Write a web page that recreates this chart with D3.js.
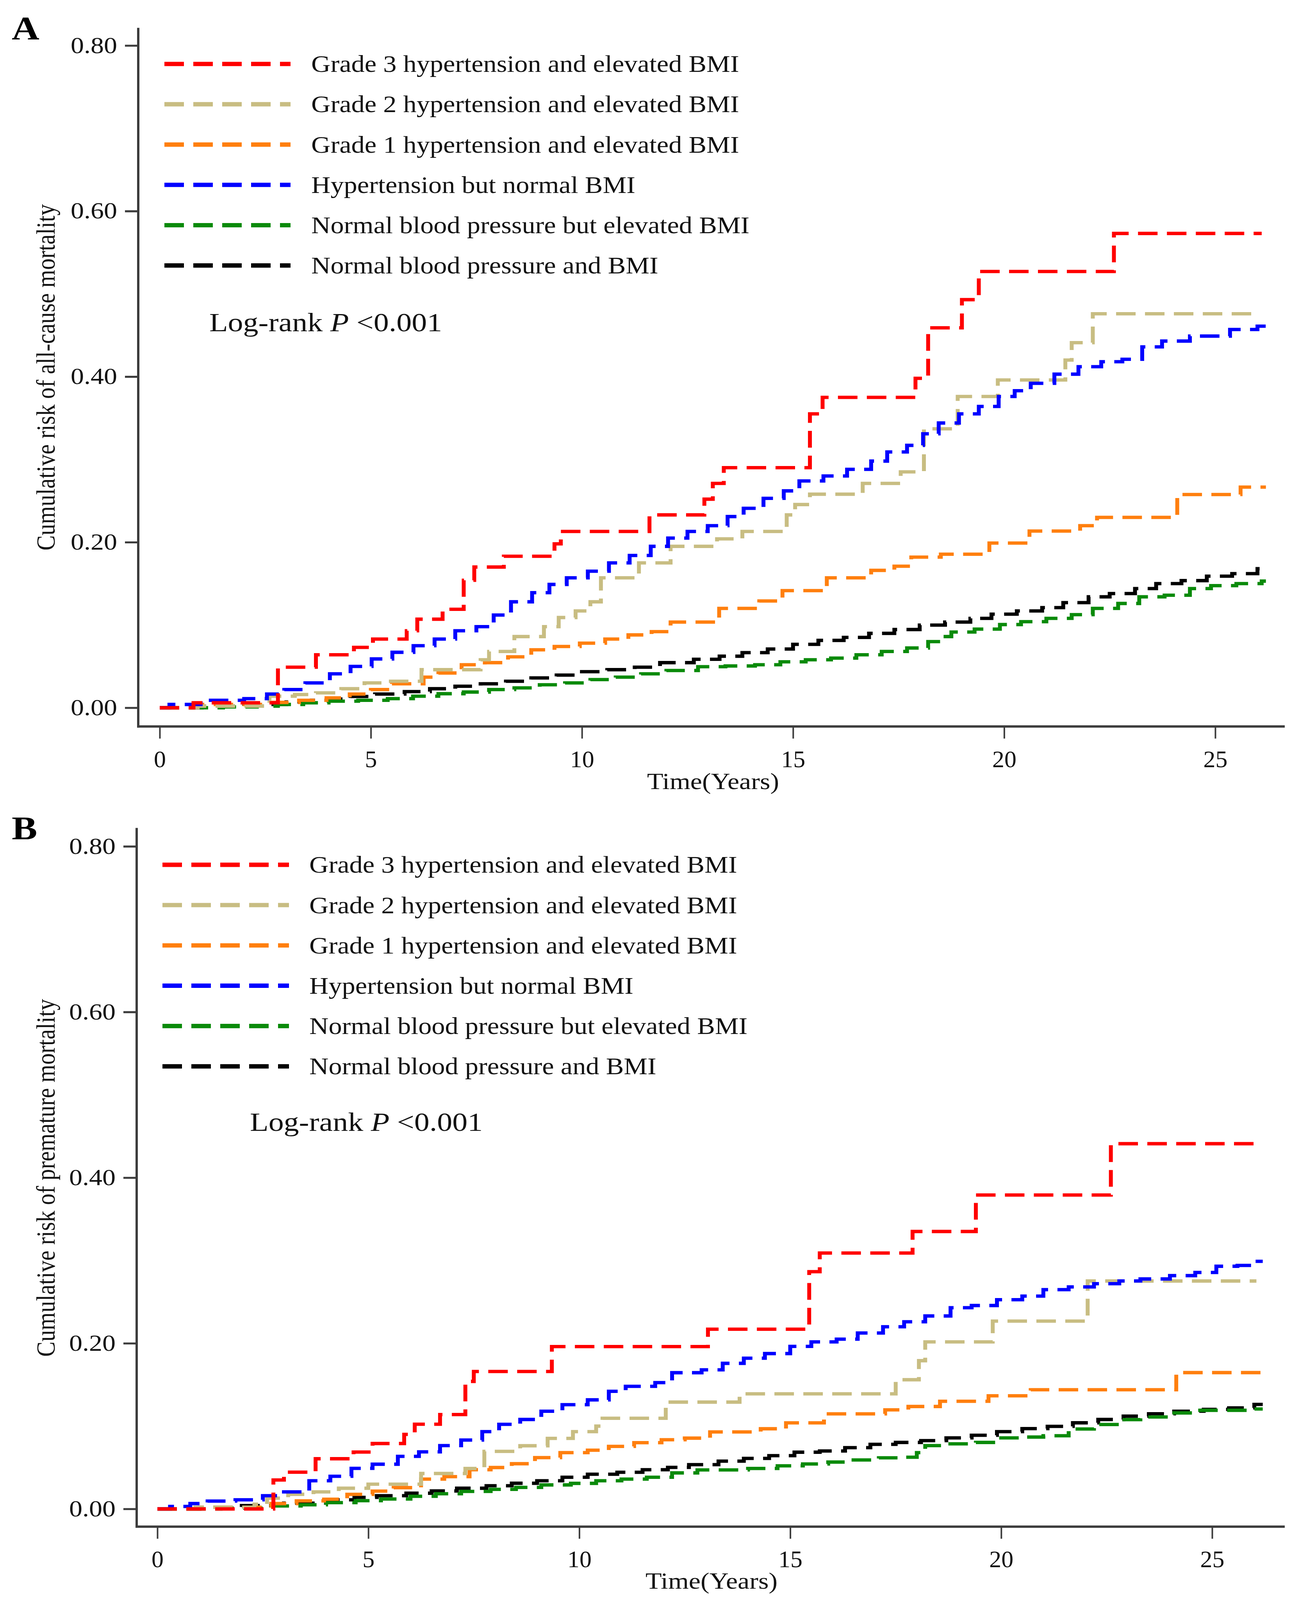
<!DOCTYPE html>
<html><head><meta charset="utf-8">
<script src="https://cdn.jsdelivr.net/npm/d3@7/dist/d3.min.js"></script>
<style>
html,body{margin:0;padding:0;background:#fff;overflow:hidden;width:100%;height:100%;}
svg{display:block;width:100vw;height:100vh;}
text{font-family:"Liberation Serif","Times New Roman",serif;}
</style></head>
<body>
<svg id="chart" viewBox="0 0 3306 4779" preserveAspectRatio="none"></svg>
<script>
// ---------- DATA ----------
const seriesNames = [
  "Grade 3 hypertension and elevated BMI",
  "Grade 2 hypertension and elevated BMI",
  "Grade 1 hypertension and elevated BMI",
  "Hypertension but normal BMI",
  "Normal blood pressure but elevated BMI",
  "Normal blood pressure and BMI"
];
const seriesColors = ["#ff0000","#c8bd82","#ff7f0e","#0000ff","#0a8a0a","#000000"];
const xTicks = [0,5,10,15,20,25];
const yTicks = [0,0.2,0.4,0.6,0.8];
const panelLetters = ["A","B"];
const yTitles = ["Cumulative risk of all-cause mortality","Cumulative risk of premature mortality"];
const xTitle = "Time(Years)";

// Panel A: [time, cumulative risk]
const g3A = [[0,0],[0.8,0.006],[2.8,0.049],[3.7,0.064],[4.6,0.073],[5.05,0.083],[5.85,0.093],[6.1,0.107],[6.7,0.119],[7.2,0.154],[7.45,0.170],[8.15,0.183],[9.35,0.198],[9.5,0.213],[11.6,0.233],[12.9,0.252],[13.1,0.271],[13.36,0.290],[15.4,0.355],[15.7,0.375],[17.9,0.398],[18.2,0.459],[19.0,0.493],[19.4,0.527],[22.6,0.573],[26.1,0.573]];
const g2A = [[0,0],[0.9,0.002],[2.6,0.014],[3.2,0.016],[3.7,0.018],[4.3,0.023],[4.85,0.030],[5.4,0.032],[6.2,0.046],[7.6,0.058],[7.8,0.068],[8.4,0.086],[9.1,0.098],[9.45,0.109],[9.85,0.117],[10.2,0.128],[10.45,0.157],[11.35,0.175],[12.1,0.195],[13.2,0.204],[13.8,0.213],[14.85,0.233],[15.05,0.2455],[15.4,0.258],[16.65,0.271],[17.55,0.285],[18.1,0.337],[18.9,0.376],[19.85,0.396],[21.45,0.42],[21.6,0.441],[22.1,0.476],[26.0,0.476]];
const g1A = [[0,0],[0.8,0.004],[2.6,0.0065],[3.3,0.009],[3.95,0.012],[4.5,0.0166],[5.0,0.022],[5.5,0.029],[6.25,0.037],[6.6,0.042],[7.15,0.052],[7.7,0.0545],[8.25,0.0615],[8.8,0.070],[9.35,0.074],[9.95,0.078],[10.55,0.083],[11.1,0.088],[11.65,0.092],[12.1,0.1035],[13.25,0.120],[14.2,0.129],[14.75,0.1415],[15.8,0.157],[16.85,0.166],[17.4,0.171],[17.8,0.182],[18.5,0.1855],[19.65,0.199],[20.6,0.2135],[21.8,0.220],[22.2,0.230],[24.1,0.2576],[25.6,0.2666],[26.2,0.2666]];
const htA = [[0,0],[0.23,0.004],[0.97,0.009],[2.0,0.011],[2.54,0.0166],[2.95,0.022],[3.45,0.030],[4.03,0.041],[4.52,0.050],[5.02,0.059],[5.51,0.067],[6.01,0.075],[6.51,0.083],[7.0,0.093],[7.5,0.098],[7.91,0.112],[8.32,0.128],[8.82,0.139],[9.23,0.149],[9.64,0.157],[10.14,0.165],[10.64,0.175],[11.13,0.184],[11.63,0.195],[12.04,0.205],[12.5,0.213],[12.98,0.220],[13.45,0.231],[13.83,0.241],[14.3,0.253],[14.78,0.262],[15.15,0.274],[15.72,0.280],[16.28,0.288],[16.85,0.298],[17.23,0.309],[17.7,0.317],[18.08,0.331],[18.45,0.344],[18.93,0.355],[19.4,0.364],[19.87,0.376],[20.25,0.383],[20.63,0.392],[21.19,0.403],[21.76,0.412],[22.3,0.418],[22.8,0.421],[23.27,0.436],[23.74,0.443],[24.4,0.449],[25.35,0.457],[26.0,0.461],[26.2,0.461]];
const nbA = [[0,0],[1.5,0.001],[2.3,0.002],[2.8,0.004],[3.4,0.006],[4.0,0.008],[4.7,0.009],[5.4,0.011],[6.0,0.014],[6.6,0.017],[7.2,0.019],[7.8,0.022],[8.4,0.024],[9.0,0.0278],[9.6,0.030],[10.2,0.034],[10.8,0.037],[11.4,0.041],[12.0,0.045],[12.75,0.0496],[13.4,0.0505],[14.1,0.052],[14.7,0.0555],[15.3,0.058],[15.9,0.060],[16.5,0.064],[17.1,0.068],[17.7,0.0722],[18.2,0.0799],[18.5,0.086],[18.75,0.0915],[19.3,0.095],[19.9,0.1005],[20.4,0.104],[21.0,0.108],[21.6,0.1125],[22.1,0.120],[22.7,0.126],[23.2,0.134],[23.8,0.136],[24.4,0.144],[24.9,0.1475],[25.5,0.150],[26.1,0.153],[26.2,0.153]];
const nnA = [[0,0],[1.0,0.002],[2.0,0.004],[3.0,0.007],[3.6,0.009],[4.03,0.0105],[4.52,0.0136],[5.1,0.0166],[5.8,0.0195],[6.4,0.023],[7.0,0.026],[7.6,0.029],[8.2,0.032],[8.8,0.036],[9.4,0.0395],[10.0,0.0436],[10.6,0.046],[11.25,0.049],[11.85,0.0545],[12.65,0.0586],[13.26,0.0623],[13.8,0.0666],[14.4,0.071],[15.0,0.0766],[15.6,0.0814],[16.2,0.085],[16.8,0.0899],[17.4,0.0945],[18.0,0.0999],[18.6,0.1035],[19.2,0.108],[19.7,0.1131],[20.3,0.117],[20.9,0.121],[21.4,0.127],[22.0,0.134],[22.5,0.138],[23.1,0.144],[23.6,0.150],[24.2,0.1536],[24.8,0.159],[25.4,0.162],[26.0,0.168],[26.2,0.170]];

// Panel B
const g3B = [[0,0],[2.75,0.035],[3.0,0.0444],[3.75,0.0606],[4.65,0.0687],[5.1,0.079],[5.85,0.09],[6.1,0.1023],[6.7,0.114],[7.3,0.154],[7.5,0.166],[9.35,0.196],[13.05,0.217],[15.45,0.2865],[15.7,0.309],[17.9,0.335],[19.4,0.379],[22.6,0.441],[26.1,0.441]];
const g2B = [[0,0],[0.9,0.002],[2.3,0.0057],[2.6,0.013],[3.1,0.0177],[3.7,0.0206],[4.3,0.025],[5.0,0.0299],[6.25,0.0428],[7.3,0.0488],[7.75,0.0695],[8.6,0.0763],[9.25,0.0852],[9.85,0.0933],[10.4,0.100],[10.55,0.1095],[12.05,0.129],[13.8,0.139],[17.5,0.156],[18.05,0.179],[18.2,0.2017],[19.8,0.2268],[22.05,0.2752],[26.05,0.2752]];
const g1B = [[0,0],[1.0,0.002],[2.7,0.0065],[3.3,0.0097],[3.95,0.0117],[4.5,0.0176],[5.1,0.0215],[5.6,0.0257],[6.25,0.036],[6.8,0.039],[7.4,0.0473],[7.9,0.050],[8.4,0.0546],[8.95,0.062],[9.55,0.068],[10.2,0.0709],[10.7,0.0755],[11.3,0.080],[11.95,0.0835],[12.5,0.0855],[13.1,0.093],[14.3,0.0968],[14.9,0.1039],[15.8,0.1148],[17.25,0.1196],[17.8,0.1237],[18.55,0.130],[19.7,0.1366],[20.7,0.1439],[24.15,0.1646],[26.2,0.1646]];
const htB = [[0,0],[0.3,0.003],[0.78,0.0065],[1.19,0.0095],[1.85,0.011],[2.5,0.016],[3.0,0.0206],[3.6,0.034],[4.1,0.0394],[4.6,0.049],[5.1,0.054],[5.7,0.0635],[6.2,0.0689],[6.7,0.0765],[7.2,0.0832],[7.7,0.0933],[8.1,0.1022],[8.6,0.108],[9.1,0.118],[9.6,0.1259],[10.2,0.1317],[10.7,0.142],[11.1,0.148],[11.8,0.1525],[12.2,0.1645],[12.9,0.168],[13.4,0.1758],[13.9,0.182],[14.4,0.1876],[15.0,0.1963],[15.5,0.2017],[16.1,0.205],[16.6,0.2124],[17.2,0.220],[17.7,0.226],[18.2,0.233],[18.8,0.243],[19.3,0.2456],[19.9,0.2526],[20.5,0.257],[21.0,0.2648],[21.6,0.2681],[22.2,0.272],[22.8,0.2753],[23.3,0.2777],[24.0,0.2817],[24.6,0.2855],[25.1,0.293],[25.6,0.294],[26.0,0.299],[26.2,0.299]];
const nbB = [[0,0],[1.5,0.001],[2.7,0.0036],[3.4,0.005],[4.0,0.0076],[4.7,0.010],[5.3,0.012],[6.0,0.0153],[6.6,0.0183],[7.2,0.0212],[7.9,0.0236],[8.5,0.026],[9.1,0.029],[9.8,0.0309],[10.4,0.034],[11.0,0.036],[11.6,0.0383],[12.2,0.0435],[12.8,0.0471],[14.0,0.0489],[14.7,0.0521],[15.3,0.0543],[15.9,0.0566],[16.5,0.0591],[17.1,0.0617],[17.7,0.0624],[18.0,0.068],[18.2,0.0765],[18.7,0.0786],[19.4,0.0803],[19.9,0.0858],[20.5,0.0868],[21.0,0.0884],[21.6,0.0965],[22.2,0.1019],[22.8,0.1078],[23.3,0.111],[24.0,0.1159],[24.6,0.1191],[25.9,0.1207],[26.2,0.1207]];
const nnB = [[0,0],[1.0,0.002],[2.0,0.004],[3.0,0.007],[4.0,0.011],[4.67,0.014],[5.2,0.016],[5.9,0.019],[6.5,0.0217],[7.1,0.025],[7.8,0.028],[8.4,0.031],[9.0,0.034],[9.6,0.0383],[10.2,0.0419],[10.9,0.0443],[11.5,0.0473],[12.1,0.0502],[12.6,0.0535],[13.3,0.0577],[13.9,0.061],[14.5,0.0643],[15.1,0.0685],[15.7,0.070],[16.3,0.074],[16.9,0.078],[17.5,0.0803],[18.1,0.0825],[18.7,0.0858],[19.3,0.089],[19.9,0.0933],[20.5,0.097],[21.1,0.0997],[21.7,0.104],[22.3,0.108],[22.9,0.112],[23.5,0.1149],[24.1,0.118],[24.8,0.1202],[25.4,0.122],[26.0,0.1262],[26.2,0.1262]];

const panelSeries = [
  [g3A, g2A, g1A, htA, nbA, nnA],
  [g3B, g2B, g1B, htB, nbB, nnB]
];

// ---------- LAYOUT ----------
const svg = d3.select("#chart");
const FONT = '"Liberation Serif","Times New Roman",serif';
const AXIS_COL = "#3c3c3c";
const TEXT_COL = "#111";

const layouts = [
  {x0:409, x25:3112, y0:2114, y80:136, axX:354, axTop:83, axBot:2170, axRight:3290,
   letterX:30, letterY:118, legX1:421, legX2:744, legTextX:797, legY0:191, legDy:120.4,
   lrX:536, lrY:989, yTitleX:140, yTitleY:1127, xTitleX:1826, xTitleY:2357},
  {x0:403, x25:3104, y0:4507, y80:2528, axX:350, axTop:2473, axBot:4560, axRight:3290,
   letterX:30, letterY:2507, legX1:416, legX2:740, legTextX:792, legY0:2583, legDy:120.4,
   lrX:640, lrY:3378, yTitleX:140, yTitleY:3518, xTitleX:1822, xTitleY:4745}
];

// draw order (bottom to top)
const drawOrder = [5,4,2,1,3,0];

layouts.forEach((L, p) => {
  const g = svg.append("g");
  const x = d3.scaleLinear().domain([0,25]).range([L.x0, L.x25]);
  const y = d3.scaleLinear().domain([0,0.8]).range([L.y0, L.y80]);

  // axes
  const yAxis = d3.axisLeft(y).tickValues(yTicks).tickFormat(d3.format(".2f")).tickSize(34).tickPadding(20);
  const ya = g.append("g").attr("transform", `translate(${L.axX},0)`).call(yAxis);
  ya.select(".domain").remove();
  ya.selectAll(".tick line").attr("stroke", AXIS_COL).attr("stroke-width", 6);
  ya.selectAll(".tick text").attr("font-family", FONT).attr("font-size", 68).attr("fill", TEXT_COL);

  const xAxis = d3.axisBottom(x).tickValues(xTicks).tickFormat(d3.format("d")).tickSize(36).tickPadding(34);
  const xa = g.append("g").attr("transform", `translate(0,${L.axBot})`).call(xAxis);
  xa.select(".domain").remove();
  xa.selectAll(".tick line").attr("stroke", AXIS_COL).attr("stroke-width", 4);
  xa.selectAll(".tick text").attr("font-family", FONT).attr("font-size", 72).attr("fill", TEXT_COL)
    .attr("transform", "scale(0.86,1)");

  // frame lines (L-shape)
  g.append("line").attr("x1", L.axX).attr("x2", L.axX).attr("y1", L.axTop).attr("y2", L.axBot + 3)
    .attr("stroke", AXIS_COL).attr("stroke-width", 6);
  g.append("line").attr("x1", L.axX - 3).attr("x2", L.axRight).attr("y1", L.axBot).attr("y2", L.axBot)
    .attr("stroke", AXIS_COL).attr("stroke-width", 7);

  // curves
  const line = d3.line().x(d => x(d[0])).y(d => y(d[1])).curve(d3.curveStepAfter);
  drawOrder.forEach(i => {
    g.append("path").datum(panelSeries[p][i])
      .attr("d", line).attr("fill", "none")
      .attr("stroke", seriesColors[i]).attr("stroke-width", 10)
      .attr("stroke-dasharray", "50,24");
  });

  // legend
  seriesNames.forEach((name, i) => {
    const yy = L.legY0 + i * L.legDy;
    g.append("line").attr("x1", L.legX1).attr("x2", L.legX2).attr("y1", yy).attr("y2", yy)
      .attr("stroke", seriesColors[i]).attr("stroke-width", 13).attr("stroke-dasharray", "50,24");
    g.append("text").attr("transform", `translate(${L.legTextX},${yy + 24}) scale(0.95,1)`)
      .attr("font-family", FONT).attr("font-size", 72).attr("fill", TEXT_COL).text(name);
  });

  // log-rank
  const lr = g.append("text").attr("x", L.lrX).attr("y", L.lrY)
    .attr("font-family", FONT).attr("font-size", 78).attr("fill", TEXT_COL);
  lr.append("tspan").text("Log-rank ");
  lr.append("tspan").attr("font-style", "italic").text("P");
  lr.append("tspan").text(" <0.001");

  // panel letter
  g.append("text").attr("x", L.letterX).attr("y", L.letterY)
    .attr("font-family", FONT).attr("font-size", 98).attr("font-weight", "bold").attr("fill", "#000")
    .text(panelLetters[p]);

  // axis titles
  g.append("text").attr("transform", `translate(${L.yTitleX},${L.yTitleY}) rotate(-90)`)
    .attr("text-anchor", "middle").attr("font-family", FONT).attr("font-size", 68).attr("fill", TEXT_COL)
    .text(yTitles[p]);
  g.append("text").attr("x", L.xTitleX).attr("y", L.xTitleY)
    .attr("text-anchor", "middle").attr("font-family", FONT).attr("font-size", 68).attr("fill", TEXT_COL)
    .text(xTitle);
});
</script>
</body></html>
